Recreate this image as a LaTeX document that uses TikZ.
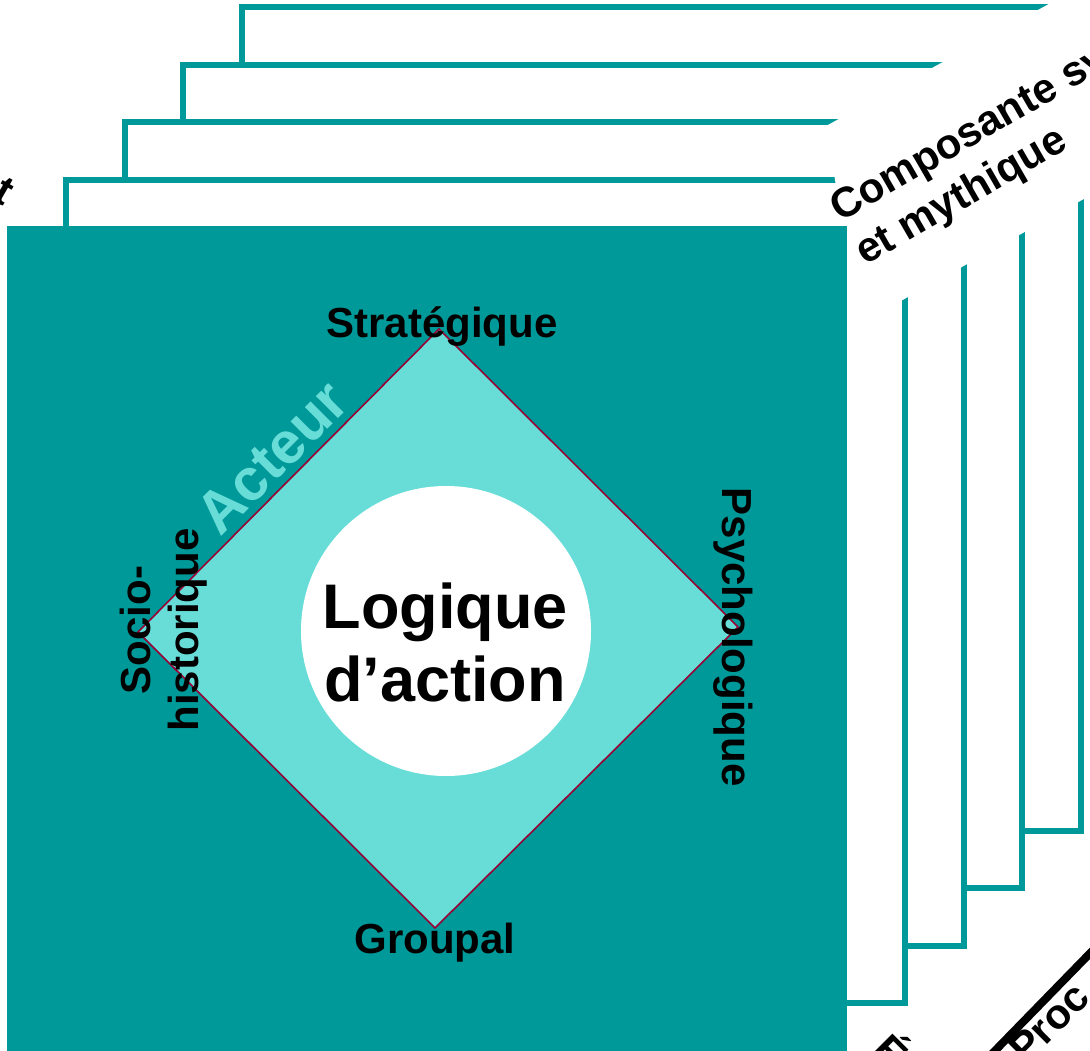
\documentclass[tikz,border=0pt]{standalone}
\usepackage{fontspec}
\setmainfont{Liberation Sans}
\definecolor{tealA}{RGB}{0,153,153}
\definecolor{aquaA}{RGB}{104,221,216}
\definecolor{wineA}{RGB}{153,0,51}
\tikzset{
  panel/.style={draw=tealA, fill=white, line width=6pt},
  lbl/.style={font=\fontsize{42}{48}\selectfont\bfseries, inner sep=0pt, text=black},
  biglbl/.style={font=\fontsize{63}{73}\selectfont\bfseries, inner sep=0pt, text=black, align=center},
  actorlbl/.style={font=\fontsize{59}{63}\selectfont\bfseries, inner sep=0pt, text=aquaA},
  rhombus/.style={fill=aquaA, draw=wineA, line width=1.6pt, line join=miter},
}
\begin{document}
\begin{tikzpicture}[x=1pt,y=-1pt]
\clip (0,0) rectangle (1090,1051);
\fill[white] (0,0) rectangle (1090,1051);
% stacked panels behind
\foreach \k in {3,2,1,0}
  \draw[panel] ({66+58.7*\k},{180-57.5*\k}) rectangle ({905+58.7*\k},{1003-57.5*\k});
% white band under the rotated caption
\fill[white] (826,126) -- (1100,-24) -- (1100,190) -- (847,331) -- (836,186) -- cycle;
% front square
\fill[tealA] (7,226) rectangle (847,1060);
% diamond
\draw[rhombus] (439,329) -- (738,627) -- (435,928) -- (138,632) -- cycle;
% circle
\fill[white] (446,631) circle (145pt);
% labels
\node[lbl, anchor=base] (strat) at (442,337) {Stratégique};
\node[lbl, anchor=base] (grp) at (435,953) {Groupal};
\node[lbl, anchor=base, rotate=-90] (psy) at (722,637) {Psychologique};
\node[lbl, align=center, rotate=90] (socio) at (164,630) {Socio-\\historique};
\node[actorlbl, rotate=45] (acteur) at (272,457) {Acteur};
\node[biglbl] (logique) at (445,642) {Logique\\d’action};
\node[lbl, rotate=30, anchor=base west] (comp1) at (840,223) {Composante sy};
\node[lbl, rotate=30, anchor=base west] (comp2) at (865,266) {et mythique};
% bottom right axis and captions
\coordinate (axA) at (1100,943);
\coordinate (axB) at (984,1062);
\draw[line width=8pt] (axA) -- (axB);
\node[lbl, rotate=45, anchor=base west] (proc) at (1026,1066) {Proc};
\node[lbl, rotate=-45, anchor=base west] (eacc) at (870,1052) {É};
\node[lbl, rotate=-30] (tchar) at (4,191) {t};
\end{tikzpicture}
\end{document}
